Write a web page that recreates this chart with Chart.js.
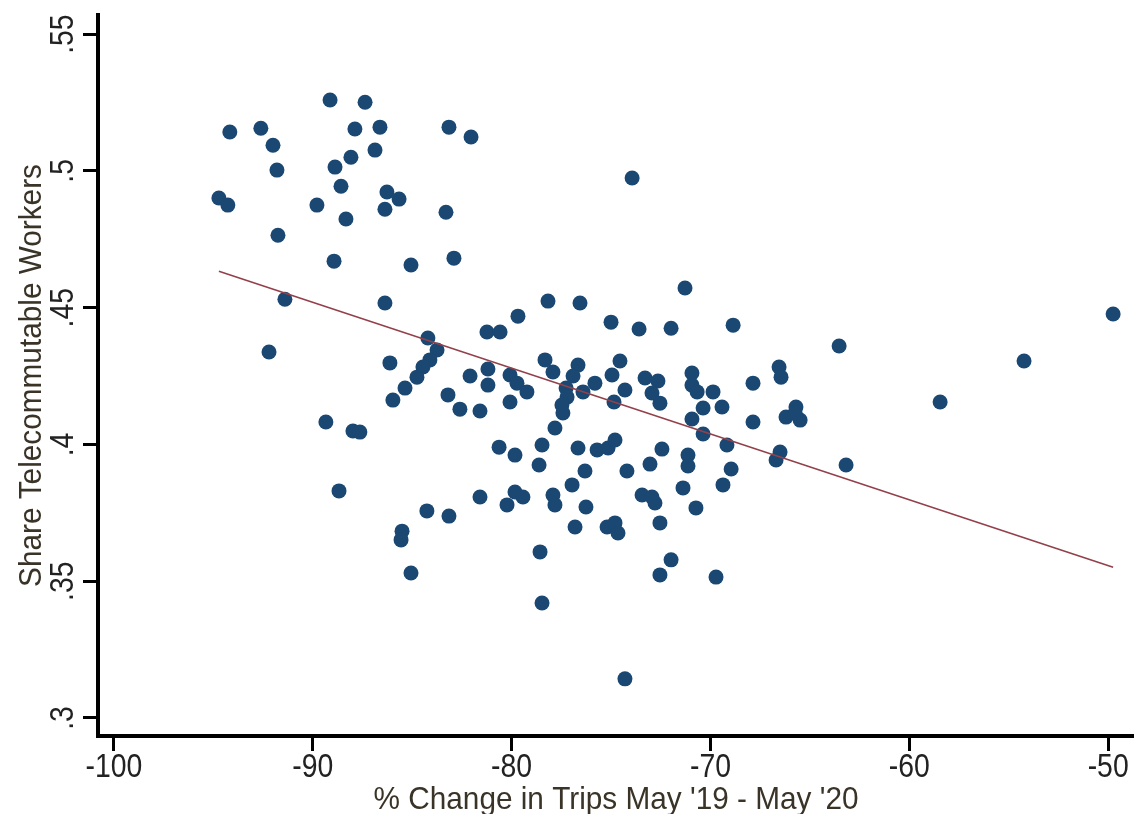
<!DOCTYPE html>
<html>
<head>
<meta charset="utf-8">
<script src="https://cdn.jsdelivr.net/npm/chart.js@4"></script>
<style>
  html, body { margin: 0; padding: 0; background: #fff; }
  canvas { display: block; }
</style>
</head>
<body>
<canvas id="c" width="1134" height="814"></canvas>
<script>
// County observations: % change in trips (May '19 -> May '20) and share of telecommutable workers
const tripChange = [
  -89.13, -87.37, -94.17, -92.61, -87.88, -86.62, -83.15, -82.04, -92.00, -86.87,
  -88.08, -88.88, -91.80, -88.58, -86.27, -85.66, -86.37, -94.72, -94.27, -89.79,
  -88.33, -83.30, -91.75, -88.93, -85.06, -82.90, -91.40, -86.37, -92.20, -81.24,
  -80.58, -84.21, -83.75, -84.11, -84.46, -84.76, -85.36, -85.97, -86.12, -82.09,
  -81.19, -81.19, -83.20, -82.60, -81.59, -89.34, -87.98, -87.63, -80.63, -88.68,
  -81.59, -84.26, -83.15, -85.51, -85.56, -85.06, -73.94, -71.28, -78.17, -76.56,
  -79.68, -75.00, -73.59, -71.98, -68.86, -80.08, -79.73, -79.23, -80.08, -78.32,
  -77.92, -76.66, -76.91, -77.26, -77.21, -77.47, -77.42, -75.81, -76.41, -74.55,
  -74.95, -74.30, -74.85, -73.29, -72.64, -72.94, -72.54, -70.93, -70.93, -70.67,
  -69.87, -70.37, -69.42, -67.86, -67.86, -70.93, -70.37, -69.17, -77.82, -79.83,
  -78.47, -78.62, -76.66, -75.70, -75.15, -74.80, -76.31, -76.96, -74.20, -73.04,
  -72.44, -71.13, -71.13, -68.96, -71.38, -69.37, -79.83, -79.43, -80.23, -77.92,
  -77.82, -76.26, -73.44, -72.94, -72.79, -70.73, -76.81, -75.20, -74.80, -74.65,
  -72.54, -78.57, -71.98, -72.54, -69.72, -78.47, -63.53, -66.55, -66.45, -65.70,
  -66.20, -65.49, -65.74, -66.50, -66.70, -63.18, -58.45, -54.23, -49.75, -74.30
];
const teleShare = [
  0.5259, 0.5251, 0.5142, 0.5156, 0.5153, 0.5160, 0.5160, 0.5124, 0.5094, 0.5076,
  0.5050, 0.5014, 0.5003, 0.4944, 0.4923, 0.4897, 0.4860, 0.4901, 0.4875, 0.4875,
  0.4824, 0.4849, 0.4765, 0.4670, 0.4656, 0.4681, 0.4531, 0.4517, 0.4338, 0.4411,
  0.4411, 0.4389, 0.4345, 0.4309, 0.4283, 0.4246, 0.4206, 0.4162, 0.4298, 0.4250,
  0.4276, 0.4217, 0.4181, 0.4129, 0.4122, 0.4082, 0.4049, 0.4045, 0.3990, 0.3830,
  0.3808, 0.3757, 0.3738, 0.3683, 0.3651, 0.3530, 0.4974, 0.4572, 0.4524, 0.4517,
  0.4469, 0.4447, 0.4422, 0.4425, 0.4436, 0.4254, 0.4224, 0.4192, 0.4155, 0.4309,
  0.4265, 0.4290, 0.4250, 0.4206, 0.4173, 0.4144, 0.4115, 0.4224, 0.4192, 0.4305,
  0.4254, 0.4199, 0.4155, 0.4243, 0.4232, 0.4188, 0.4151, 0.4261, 0.4217, 0.4192,
  0.4192, 0.4133, 0.4137, 0.4224, 0.4082, 0.4093, 0.4038, 0.3998, 0.4060, 0.3961,
  0.3998, 0.3925, 0.3987, 0.3980, 0.3987, 0.4016, 0.3903, 0.3852, 0.3903, 0.3928,
  0.3983, 0.3961, 0.3921, 0.3910, 0.3841, 0.3852, 0.3826, 0.3808, 0.3779, 0.3815,
  0.3779, 0.3771, 0.3815, 0.3808, 0.3786, 0.3768, 0.3698, 0.3698, 0.3713, 0.3676,
  0.3713, 0.3607, 0.3578, 0.3523, 0.3515, 0.3420, 0.4360, 0.4283, 0.4246, 0.4137,
  0.4100, 0.4089, 0.4115, 0.3972, 0.3943, 0.3925, 0.4155, 0.4305, 0.4477, 0.3143
];

// Axis ticks and labels
const xTickValues = [-100, -90, -80, -70, -60, -50];
const xTickLabels = ['-100', '-90', '-80', '-70', '-60', '-50'];
const yTickValues = [0.3, 0.35, 0.4, 0.45, 0.5, 0.55];
const yTickLabels = ['.3', '.35', '.4', '.45', '.5', '.55'];
const xTitle = "% Change in Trips May '19 - May '20";
const yTitle = 'Share Telecommutable Workers';

// Linear fit: share = intercept + slope * change
const fitIntercept = 0.2354;
const fitSlope = -0.002406;

const points = tripChange.map((x, i) => ({ x: x, y: teleShare[i] }));
const xLo = Math.min(...tripChange);
const xHi = Math.max(...tripChange);
const fitLine = [xLo, xHi].map(x => ({ x: x, y: fitIntercept + fitSlope * x }));

const TICK_FONT = '33px "Liberation Sans", Arial, sans-serif';
const TITLE_FONT = '32px "Liberation Sans", Arial, sans-serif';

// Condensed axis text, placed from the scales
const axisText = {
  id: 'axisText',
  afterDraw(chart) {
    const { ctx, chartArea, scales } = chart;
    const put = (text, px, py, rot, sx, font, color) => {
      ctx.save();
      ctx.translate(px, py);
      if (rot) ctx.rotate(rot);
      ctx.scale(sx, 1);
      ctx.font = font;
      ctx.fillStyle = color;
      ctx.textAlign = 'center';
      ctx.textBaseline = 'alphabetic';
      ctx.fillText(text, 0, 0);
      ctx.restore();
    };
    xTickValues.forEach((v, i) =>
      put(xTickLabels[i], scales.x.getPixelForValue(v), chartArea.bottom + 41, 0, 0.86, TICK_FONT, '#222'));
    yTickValues.forEach((v, i) =>
      put(yTickLabels[i], chartArea.left - 25, scales.y.getPixelForValue(v), -Math.PI / 2, 0.86, TICK_FONT, '#222'));
    put(xTitle, (chartArea.left + chartArea.right) / 2, chartArea.bottom + 73, 0, 0.93, TITLE_FONT, '#3a3327');
    put(yTitle, chartArea.left - 57, (chartArea.top + chartArea.bottom) / 2, -Math.PI / 2, 0.93, TITLE_FONT, '#3a3327');
  }
};

const axisCommon = {
  type: 'linear',
  ticks: { display: false },
  grid: {
    display: true,
    drawOnChartArea: false,
    drawTicks: true,
    tickLength: 15,
    tickWidth: 3,
    tickColor: '#000'
  },
  border: { display: true, color: '#000', width: 4 }
};

new Chart(document.getElementById('c'), {
  type: 'scatter',
  data: {
    datasets: [
      {
        type: 'line',
        data: fitLine,
        borderColor: '#93404a',
        borderWidth: 1.6,
        pointRadius: 0,
        fill: false,
        tension: 0,
        order: 0
      },
      {
        data: points,
        backgroundColor: '#1a4872',
        borderWidth: 0,
        pointRadius: 7.5,
        order: 1
      }
    ]
  },
  options: {
    responsive: false,
    animation: false,
    layout: { autoPadding: false, padding: { top: 15, left: 0, right: 0, bottom: 0 } },
    plugins: { legend: { display: false }, tooltip: { enabled: false } },
    scales: {
      x: Object.assign({}, axisCommon, {
        min: -100.8,
        max: -48.7,
        afterBuildTicks: s => { s.ticks = xTickValues.map(v => ({ value: v })); },
        afterFit: s => { s.height = 78; s.paddingLeft = 0; s.paddingRight = 0; }
      }),
      y: Object.assign({}, axisCommon, {
        min: 0.2934,
        max: 0.557,
        afterBuildTicks: s => { s.ticks = yTickValues.map(v => ({ value: v })); },
        afterFit: s => { s.width = 98; s.paddingTop = 0; s.paddingBottom = 0; }
      })
    }
  },
  plugins: [axisText]
});
</script>
</body>
</html>
